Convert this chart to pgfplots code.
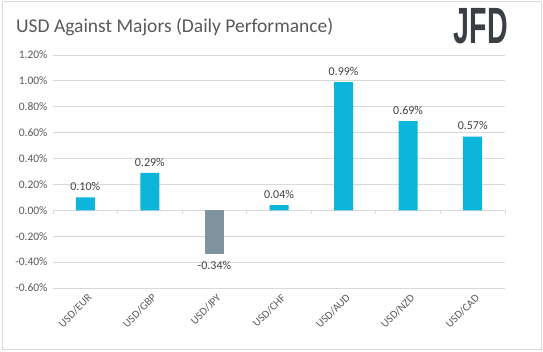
\documentclass[border=0pt]{standalone}
\usepackage{pgfplots}
\pgfplotsset{compat=1.18}
\usepackage{fontspec}
\setmainfont{Carlito}
\newfontfamily\logofont{Liberation Sans}
\definecolor{barblue}{HTML}{0BB5DB}
\definecolor{bargrey}{HTML}{7F949E}
\definecolor{txtgrey}{HTML}{595959}
\definecolor{lbltxt}{HTML}{404040}
\definecolor{gridgrey}{HTML}{D9D9D9}
\definecolor{logogrey}{HTML}{3A3F46}
\begin{document}
\begin{tikzpicture}[x=1pt,y=1pt]
\useasboundingbox (0,0) rectangle (543,351);
\draw[gridgrey, line width=1pt] (2,2) rectangle (541,349);
\node[anchor=base west, text=txtgrey, font=\fontsize{19.5}{19.5}\selectfont, inner sep=0pt] at (16,318) {USD Against Majors (Daily Performance)};
\node[anchor=north east, text=logogrey, font=\logofont\fontsize{51}{51}\selectfont\bfseries, inner sep=0pt, xscale=0.56] at (508,343) {JFD};
\begin{axis}[
  at={(53pt,63pt)}, anchor=south west,
  scale only axis, width=452pt, height=233pt,
  xmin=-0.5, xmax=6.5, ymin=-0.6, ymax=1.2,
  ytick={-0.6,-0.4,...,1.21},
  xtick={0,...,6},
  xticklabels={USD/EUR,USD/GBP,USD/JPY,USD/CHF,USD/AUD,USD/NZD,USD/CAD},
  axis line style={draw=none},
  major tick style={draw=none},
  ymajorgrids, grid style={gridgrey, line width=0.8pt},
  /pgf/number format/assume math mode=true,
  yticklabel={\pgfmathprintnumber[fixed,fixed zerofill,precision=2]{\tick}\%},
  yticklabel style={text=txtgrey, font=\fontsize{11.5}{11.5}\selectfont, xshift=-2pt},
  xticklabel style={text=txtgrey, font=\fontsize{11}{11}\selectfont, rotate=45, anchor=east, yshift=-6pt, xshift=4pt},
  ybar, bar width=19pt,
  nodes near coords={\pgfmathprintnumber[fixed,fixed zerofill,precision=2]{\pgfplotspointmeta}\%},
  nodes near coords style={text=lbltxt, font=\fontsize{12}{12}\selectfont, /pgf/number format/assume math mode=true},
  clip=false,
]
\addplot[fill=barblue, draw=none, bar shift=0pt, every node near coord/.append style={yshift=3pt}] coordinates {(0,0.10) (1,0.29) (3,0.04) (4,0.99) (5,0.69) (6,0.57)};
\addplot[fill=bargrey, draw=none, bar shift=0pt, every node near coord/.append style={yshift=-3pt}] coordinates {(2,-0.34)};
\pgfplotsinvokeforeach{-0.5,0.5,1.5,2.5,3.5,4.5,5.5,6.5}{
  \draw[gridgrey, line width=0.8pt] (axis cs:#1,0) -- ++(0pt,-4pt);
}
\end{axis}
\end{tikzpicture}
\end{document}
